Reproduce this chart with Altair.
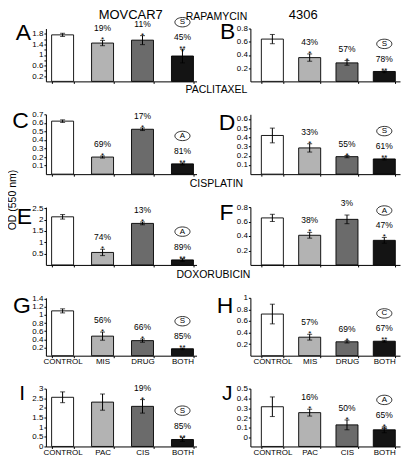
import altair as alt
import pandas as pd

FONT = "Liberation Sans"

# ---------------- categories ----------------
CATS_MIS = ["CONTROL", "MIS", "DRUG", "BOTH"]
CATS_PAC = ["CONTROL", "PAC", "CIS", "BOTH"]

# ---------------- data (OD 550 nm) ----------------
A_vals = [1.76, 1.45, 1.56, 0.96]
A_err = [0.06, 0.10, 0.17, 0.26]
A_pct = ["", "19%", "11%", "45%"]
A_stars = ["", "*", "*", "**\n*"]
A_circ = ["", "", "", "S"]

B_vals = [0.64, 0.36, 0.28, 0.15]
B_err = [0.07, 0.055, 0.035, 0.01]
B_pct = ["", "43%", "57%", "78%"]
B_stars = ["", "*", "*", "**\n*"]
B_circ = ["", "", "", "S"]

C_vals = [0.62, 0.20, 0.525, 0.12]
C_err = [0.015, 0.012, 0.015, 0.012]
C_pct = ["", "69%", "17%", "81%"]
C_stars = ["", "*", "*", "**\n*"]
C_circ = ["", "", "", "A"]

D_vals = [0.42, 0.285, 0.19, 0.165]
D_err = [0.08, 0.045, 0.012, 0.01]
D_pct = ["", "33%", "55%", "61%"]
D_stars = ["", "*", "*", "**\n*"]
D_circ = ["", "", "", "S"]

E_vals = [2.12, 0.55, 1.83, 0.22]
E_err = [0.10, 0.14, 0.06, 0.06]
E_pct = ["", "74%", "13%", "89%"]
E_stars = ["", "*", "*", "**\n*"]
E_circ = ["", "", "", "A"]

F_vals = [0.65, 0.41, 0.63, 0.34]
F_err = [0.05, 0.04, 0.06, 0.04]
F_pct = ["", "38%", "3%", "47%"]
F_stars = ["", "*", "", "*"]
F_circ = ["", "", "", "A"]

G_vals = [1.10, 0.48, 0.37, 0.17]
G_err = [0.05, 0.10, 0.04, 0.015]
G_pct = ["", "56%", "66%", "85%"]
G_stars = ["", "*", "*", "**\n*"]
G_circ = ["", "", "", "S"]

H_vals = [0.72, 0.32, 0.24, 0.25]
H_err = [0.17, 0.05, 0.02, 0.015]
H_pct = ["", "57%", "69%", "67%"]
H_stars = ["", "*", "*", "**\n*"]
H_circ = ["", "", "", "C"]

I_vals = [2.55, 2.30, 2.08, 0.36]
I_err = [0.28, 0.42, 0.35, 0.10]
I_pct = ["", "", "19%", "85%"]
I_stars = ["", "", "*", "**\n*"]
I_circ = ["", "", "", "S"]

J_vals = [0.315, 0.255, 0.13, 0.08]
J_err = [0.10, 0.035, 0.05, 0.03]
J_pct = ["", "16%", "50%", "65%"]
J_stars = ["", "*", "*", "*\n**"]
J_circ = ["", "", "", "A"]

# ---------------- axis ticks ----------------
A_ticks = [0.2, 0.4, 0.6, 0.8, 1, 1.2, 1.4, 1.6, 1.8]
A_labels = [0.2, 0.6, 1, 1.4, 1.8]
B_ticks = [0.2, 0.4, 0.6, 0.8]
C_ticks = [0.1, 0.2, 0.3, 0.4, 0.5, 0.6, 0.7]
D_ticks = [0.1, 0.2, 0.3, 0.4, 0.5, 0.6]
E_ticks = [0.5, 1, 1.5, 2, 2.5]
F_ticks = [0.2, 0.4, 0.6, 0.8]
G_ticks = [0.2, 0.4, 0.6, 0.8, 1, 1.2, 1.4]
H_ticks = [0.2, 0.4, 0.6, 0.8, 1]
I_ticks = [0, 0.5, 1, 1.5, 2, 2.5, 3]
J_ticks = [0, 0.1, 0.2, 0.3, 0.4, 0.5]

# ---------------- style / layout ----------------
BAR_COLORS = ["#ffffff", "#b3b3b3", "#6b6b6b", "#141414"]
LEFT_W, RIGHT_W = 151, 150
ROW_H = [53, 60, 58, 58, 58]
ELLIPSE = "M-1,0A1,0.62,0,1,0,1,0A1,0.62,0,1,0,-1,0Z"

PANELS = [
    dict(letter="A", cats=CATS_MIS, vals=A_vals, err=A_err, pct=A_pct, stars=A_stars, circ=A_circ,
         domain=[0, 2.0], ticks=A_ticks, labels=A_labels, row=0, col=0, lpos=(-15, 12), lsize=23),
    dict(letter="B", cats=CATS_MIS, vals=B_vals, err=B_err, pct=B_pct, stars=B_stars, circ=B_circ,
         domain=[0, 0.8], ticks=B_ticks, labels=None, row=0, col=1, lpos=(-15, 11), lsize=23),
    dict(letter="C", cats=CATS_MIS, vals=C_vals, err=C_err, pct=C_pct, stars=C_stars, circ=C_circ,
         domain=[0, 0.7], ticks=C_ticks, labels=None, row=1, col=0, lpos=(-17, 14), lsize=23),
    dict(letter="D", cats=CATS_MIS, vals=D_vals, err=D_err, pct=D_pct, stars=D_stars, circ=D_circ,
         domain=[0, 0.65], ticks=D_ticks, labels=None, row=1, col=1, lpos=(-15, 16), lsize=23),
    dict(letter="E", cats=CATS_MIS, vals=E_vals, err=E_err, pct=E_pct, stars=E_stars, circ=E_circ,
         domain=[0, 2.55], ticks=E_ticks, labels=None, row=2, col=0, lpos=(-14, 17), lsize=23),
    dict(letter="F", cats=CATS_MIS, vals=F_vals, err=F_err, pct=F_pct, stars=F_stars, circ=F_circ,
         domain=[0, 0.8], ticks=F_ticks, labels=None, row=2, col=1, lpos=(-17, 13), lsize=23),
    dict(letter="G", cats=CATS_MIS, vals=G_vals, err=G_err, pct=G_pct, stars=G_stars, circ=G_circ,
         domain=[0, 1.42], ticks=G_ticks, labels=None, row=3, col=0, lpos=(-15, 15), lsize=23),
    dict(letter="H", cats=CATS_MIS, vals=H_vals, err=H_err, pct=H_pct, stars=H_stars, circ=H_circ,
         domain=[0, 1.0], ticks=H_ticks, labels=None, row=3, col=1, lpos=(-17, 15), lsize=23),
    dict(letter="I", cats=CATS_PAC, vals=I_vals, err=I_err, pct=I_pct, stars=I_stars, circ=I_circ,
         domain=[0, 3.0], ticks=I_ticks, labels=None, row=4, col=0, lpos=(-21, 11), lsize=21),
    dict(letter="J", cats=CATS_PAC, vals=J_vals, err=J_err, pct=J_pct, stars=J_stars, circ=J_circ,
         domain=[-0.09, 0.5], ticks=J_ticks, labels=None, row=4, col=1, lpos=(-18, 11), lsize=21),
]

# extra texts: (panel letter, text, x, y, size, angle, font)
EXTRA_TEXT = [
    ("A", "MOVCAR7", 85, -10, 13, 0, FONT),
    ("B", "4306", 53, -10, 13, 0, FONT),
    ("A", "RAPAMYCIN", 171, -9, 10.5, 0, FONT),
    ("C", "PACLITAXEL", 171, -21, 10.5, 0, FONT),
    ("E", "CISPLATIN", 171, -20.5, 10.5, 0, FONT),
    ("G", "DOXORUBICIN", 168, -20, 10.5, 0, FONT),
    ("E", "OD (550 nm)", -32.5, -7, 10.5, 270, "Liberation Sans Narrow, Liberation Sans"),
]


def make_panel(p):
    cats = p["cats"]
    base = p["domain"][0]
    nl = [(s.count("\n") + 1) if s else 1 for s in p["stars"]]
    df = pd.DataFrame({
        "cat": cats,
        "val": p["vals"],
        "lo": [v - e for v, e in zip(p["vals"], p["err"])],
        "hi": [v + e for v, e in zip(p["vals"], p["err"])],
        "base": [base] * len(cats),
        "pct": [t + "\n" * (n - 1) for t, n in zip(p["pct"], nl)],
        "stars": p["stars"],
        "circ": p["circ"],
        "fill": BAR_COLORS,
    })
    left = p["col"] == 0
    w = LEFT_W if left else RIGHT_W
    h = ROW_H[p["row"]]
    show_x = p["row"] >= 3

    if left:
        xscale = alt.Scale(domain=cats, paddingInner=0.45, paddingOuter=0.11, align=0.65)
    else:
        xscale = alt.Scale(domain=cats, paddingInner=0.41, paddingOuter=0.21, align=0.7)
    xaxis = alt.Axis(title=None, labels=show_x, labelAngle=0, labelFontSize=8, labelPadding=0,
                     tickSize=2, tickBand="extent", domainWidth=1)
    yaxis_kw = dict(title=None, values=p["ticks"], format="~g", tickSize=2, labelPadding=1,
                    labelFontSize=8, grid=False, domainWidth=1)
    if p["labels"] is not None:
        arr = ",".join(str(v) for v in p["labels"])
        yaxis_kw["labelExpr"] = (
            f"indexof([{arr}], round(datum.value*100)/100) >= 0 ? datum.label : ''"
        )
    yaxis = alt.Axis(**yaxis_kw)
    yscale = alt.Scale(domain=p["domain"], nice=False, zero=False)

    X = alt.X("cat:N", scale=xscale, axis=xaxis)

    def Y(field):
        return alt.Y(f"{field}:Q", scale=yscale, axis=yaxis)

    base_chart = alt.Chart(df)
    bars = base_chart.mark_bar(stroke="black", strokeWidth=0.9).encode(
        x=X, y=Y("val"), y2=alt.Y2("base:Q"), fill=alt.Fill("fill:N", scale=None)
    )
    rule = base_chart.mark_rule(color="black", strokeWidth=1).encode(x=X, y=Y("lo"), y2=alt.Y2("hi:Q"))
    cap_lo = base_chart.mark_tick(color="black", size=5, thickness=1, orient="horizontal").encode(x=X, y=Y("lo"))
    cap_hi = base_chart.mark_tick(color="black", size=5, thickness=1, orient="horizontal").encode(x=X, y=Y("hi"))
    stars = base_chart.mark_text(font=FONT, fontSize=8, lineBreak="\n", lineHeight=3,
                                 baseline="bottom", dy=4, color="black").encode(
        x=X, y=Y("hi"), text="stars:N")
    pct = base_chart.mark_text(font=FONT, fontSize=8.5, lineBreak="\n", lineHeight=3,
                               baseline="bottom", dy=-7, color="black").encode(
        x=X, y=Y("hi"), text="pct:N")
    circ_df = base_chart.transform_filter("datum.circ != ''")
    ring = circ_df.mark_point(shape=ELLIPSE, size=230, filled=False, stroke="black",
                              strokeWidth=0.8, opacity=1, yOffset=-27).encode(x=X, y=Y("hi"))
    ring_txt = circ_df.mark_text(font=FONT, fontSize=8, baseline="middle", dy=-27,
                                 color="black").encode(x=X, y=Y("hi"), text="circ:N")

    lx, ly = p["lpos"]
    letter = alt.Chart(alt.Data(values=[{"t": p["letter"]}])).mark_text(
        font=FONT, fontSize=p["lsize"], align="right", baseline="alphabetic", color="black"
    ).encode(text="t:N", x=alt.value(lx), y=alt.value(ly))

    layers = [bars, rule, cap_lo, cap_hi, stars, pct, ring, ring_txt, letter]
    for (pl, txt, tx, ty, fs, ang, fnt) in EXTRA_TEXT:
        if pl == p["letter"]:
            layers.append(
                alt.Chart(alt.Data(values=[{"t": txt}])).mark_text(
                    font=fnt, fontSize=fs, angle=ang, align="center",
                    baseline="middle" if ang else "alphabetic", color="black"
                ).encode(text="t:N", x=alt.value(tx), y=alt.value(ty))
            )
    return alt.layer(*layers).properties(width=w, height=h)


panels = [make_panel(p) for p in PANELS]

chart = alt.concat(
    *panels, columns=2, spacing={"row": 33, "column": 54}, bounds="flush", align="each"
).resolve_scale(x="independent", y="independent").properties(
    padding={"left": 0, "top": 0, "right": 2, "bottom": 0}
).configure_view(stroke=None).configure_axis(
    labelFont=FONT, labelColor="black", domainColor="black", tickColor="black"
)

chart.save("out.html", embed_options={"renderer": "svg", "actions": False})
